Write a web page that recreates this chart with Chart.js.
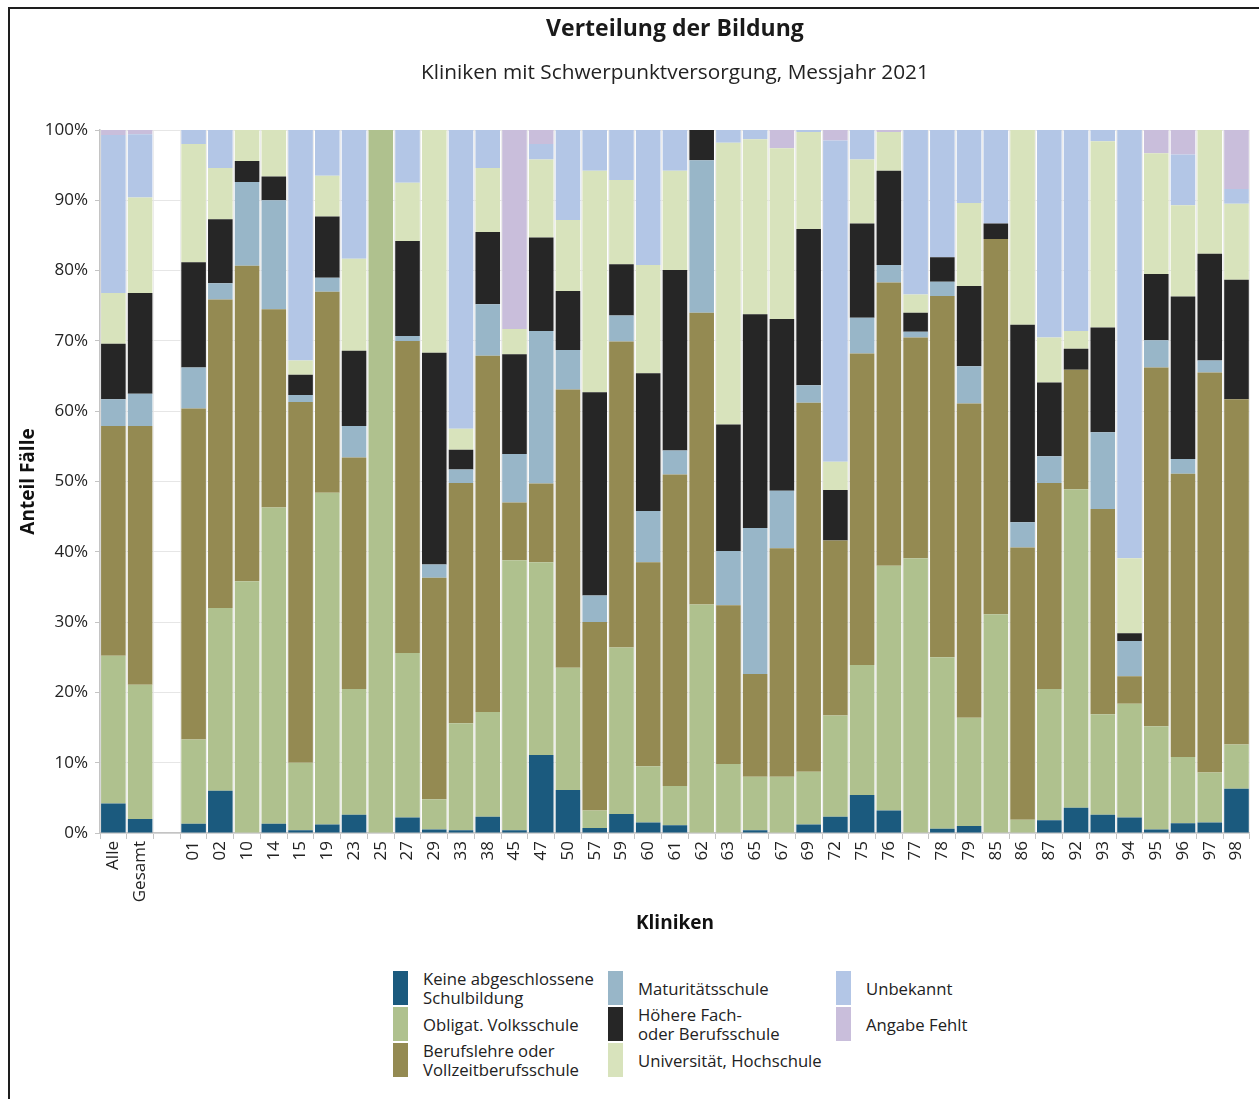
<!DOCTYPE html>
<html lang="de">
<head>
<meta charset="utf-8">
<title>Verteilung der Bildung</title>
<script src="https://cdn.jsdelivr.net/npm/chart.js@4.4.1/dist/chart.umd.min.js"></script>
<style>
  html, body { margin: 0; padding: 0; background: #fff; overflow: hidden; }
  body { width: 1259px; height: 1099px; position: relative; font-family: "Open Sans", sans-serif; }
  #frame { position: absolute; left: 8px; top: 7px; width: 1300px; height: 1200px;
           border-left: 2px solid #1e1e1e; border-top: 2px solid #1e1e1e; }
  #chart { position: absolute; left: 0; top: 0; }
  #legend { position: absolute; left: 393px; top: 971px; width: 640px; height: 110px; }
  .item { position: absolute; display: flex; align-items: center; height: 34px; }
  .sw { width: 15px; height: 34px; flex: 0 0 15px; }
  .lbl { margin-left: 15px; font-size: 16.7px; line-height: 19px; color: #222; white-space: pre; }
</style>
</head>
<body>
<div id="frame"></div>
<canvas id="chart" width="1259" height="950"></canvas>
<div id="legend"></div>
<script>
// Kliniken (leerer Eintrag trennt die Gesamtwerte von den Kliniken)
const kliniken = ["Alle", "Gesamt", "", "01", "02", "10", "14", "15", "19", "23", "25", "27", "29",
  "33", "38", "45", "47", "50", "57", "59", "60", "61", "62", "63", "65", "67", "69", "72", "75",
  "76", "77", "78", "79", "85", "86", "87", "92", "93", "94", "95", "96", "97", "98"];

// Anteile in Prozent je Bildungsstufe
const keineAbschluss = [4.2, 2.0, null, 1.3, 6.0, 0, 1.3, 0.4, 1.2, 2.6, 0, 2.2, 0.5, 0.4, 2.3, 0.4, 11.1, 6.1, 0.7, 2.7, 1.5, 1.1, 0, 0, 0.4, 0, 1.2, 2.3, 5.4, 3.2, 0, 0.6, 1.0, 0, 0, 1.8, 3.6, 2.6, 2.2, 0.5, 1.4, 1.5, 6.3];
const volksschule = [21.0, 19.1, null, 12.0, 26.0, 35.8, 45.0, 9.6, 47.2, 17.9, 100, 23.4, 4.3, 15.2, 14.9, 38.4, 27.4, 17.4, 2.5, 23.7, 8.0, 5.6, 32.5, 9.8, 7.6, 8.0, 7.5, 14.4, 18.5, 34.8, 39.1, 24.4, 15.4, 31.1, 1.9, 18.7, 45.3, 14.3, 16.2, 14.7, 9.4, 7.1, 6.3];
const berufslehre = [32.7, 36.8, null, 47.1, 43.9, 44.9, 28.2, 51.3, 28.6, 32.9, 0, 44.4, 31.5, 34.2, 50.7, 8.2, 11.2, 39.6, 26.8, 43.5, 29.0, 44.3, 41.5, 22.6, 14.6, 32.5, 52.5, 24.9, 44.3, 40.3, 31.4, 51.4, 44.7, 53.4, 38.7, 29.3, 17.0, 29.2, 3.9, 51.0, 40.3, 56.9, 49.1];
const maturitaet = [3.8, 4.6, null, 5.8, 2.3, 11.9, 15.5, 1.0, 2.0, 4.5, 0, 0.7, 1.9, 1.9, 7.3, 6.9, 21.7, 5.6, 3.8, 3.7, 7.3, 3.4, 21.7, 7.7, 20.8, 8.2, 2.5, 0, 5.1, 2.5, 0.8, 2.0, 5.3, 0, 3.6, 3.8, 0, 10.9, 5.0, 3.9, 2.1, 1.7, 0];
const hoehereFach = [7.9, 14.3, null, 15.0, 9.1, 3.0, 3.4, 2.9, 8.7, 10.7, 0, 13.5, 30.1, 2.8, 10.3, 14.2, 13.3, 8.4, 28.9, 7.3, 19.6, 25.7, 4.3, 18.0, 30.4, 24.4, 22.2, 7.2, 13.4, 13.4, 2.7, 3.5, 11.4, 2.2, 28.1, 10.5, 3.0, 14.9, 1.1, 9.4, 23.1, 15.2, 17.0];
const universitaet = [7.2, 13.6, null, 16.8, 7.3, 4.4, 6.6, 2.0, 5.8, 13.1, 0, 8.3, 31.7, 3.0, 9.1, 3.6, 11.1, 10.1, 31.5, 12.0, 15.4, 14.1, 0, 40.1, 24.9, 24.3, 13.8, 4.0, 9.1, 5.5, 2.6, 0, 11.8, 0, 27.7, 6.4, 2.5, 26.5, 10.7, 17.2, 13.0, 17.6, 10.8];
const unbekannt = [22.5, 9.0, null, 2.0, 5.4, 0, 0, 32.8, 6.5, 18.3, 0, 7.5, 0, 42.5, 5.4, 0, 2.2, 12.8, 5.8, 7.1, 19.2, 5.8, 0, 1.8, 1.3, 0, 0.3, 45.7, 4.2, 0, 23.4, 18.1, 10.4, 13.3, 0, 29.5, 28.6, 1.6, 60.9, 0, 7.2, 0, 2.1];
const angabeFehlt = [0.7, 0.6, null, 0, 0, 0, 0, 0, 0, 0, 0, 0, 0, 0, 0, 28.3, 2.0, 0, 0, 0, 0, 0, 0, 0, 0, 2.6, 0, 1.5, 0, 0.3, 0, 0, 0, 0, 0, 0, 0, 0, 0, 3.3, 3.5, 0, 8.4];

// Y-Achse
const yTicks = [0, 10, 20, 30, 40, 50, 60, 70, 80, 90, 100];

const reihen = [
  { name: "Keine abgeschlossene\nSchulbildung", data: keineAbschluss, color: "#1b5a7e" },
  { name: "Obligat. Volksschule", data: volksschule, color: "#afc18e" },
  { name: "Berufslehre oder\nVollzeitberufsschule", data: berufslehre, color: "#948a52" },
  { name: "Maturitätsschule", data: maturitaet, color: "#98b6c8" },
  { name: "Höhere Fach-\noder Berufsschule", data: hoehereFach, color: "#262626" },
  { name: "Universität, Hochschule", data: universitaet, color: "#d8e3bc" },
  { name: "Unbekannt", data: unbekannt, color: "#b3c6e6" },
  { name: "Angabe Fehlt", data: angabeFehlt, color: "#c9bedb" }
];

const FONT = "'Open Sans', sans-serif";

// Titel über der Mitte der Zeichenfläche
const titelPlugin = {
  id: "titel",
  afterDraw(chart) {
    const { ctx, chartArea } = chart;
    const cx = (chartArea.left + chartArea.right) / 2;
    ctx.save();
    ctx.fillStyle = "#1a1a1a";
    ctx.textAlign = "center";
    ctx.textBaseline = "middle";
    ctx.font = "bold 23px " + FONT;
    ctx.fillText("Verteilung der Bildung", cx, 29);
    ctx.font = "20.8px " + FONT;
    ctx.fillStyle = "#222";
    ctx.fillText("Kliniken mit Schwerpunktversorgung, Messjahr 2021", cx, 73);
    ctx.restore();
  }
};

new Chart(document.getElementById("chart"), {
  type: "bar",
  data: {
    labels: kliniken,
    datasets: reihen.map(r => ({
      label: r.name,
      data: r.data,
      backgroundColor: r.color,
      borderWidth: 0,
      barPercentage: 0.92,
      categoryPercentage: 1.0
    }))
  },
  options: {
    responsive: false,
    devicePixelRatio: 1,
    animation: false,
    layout: { padding: { top: 130, left: 0, right: 9, bottom: 0 } },
    plugins: {
      legend: { display: false },
      tooltip: { enabled: false }
    },
    scales: {
      x: {
        stacked: true,
        offset: true,
        grid: { offset: true, color: "#ececec", tickColor: "#c4c4c4", tickLength: 6, drawOnChartArea: true },
        border: { color: "#c4c4c4", width: 1.5 },
        ticks: { minRotation: 90, maxRotation: 90, autoSkip: false, padding: 2, color: "#222",
                 font: { family: FONT, size: 17 } },
        title: { display: true, text: "Kliniken", color: "#111",
                 font: { family: FONT, size: 19, weight: "bold" }, padding: { top: 0, bottom: 15 } },
        afterFit(scale) { scale.height = 117; }
      },
      y: {
        stacked: true,
        min: 0,
        max: 100,
        afterBuildTicks(scale) { scale.ticks = yTicks.map(v => ({ value: v })); },
        grid: { color: "#e6e6e6", tickColor: "#c4c4c4", tickLength: 5 },
        border: { color: "#c4c4c4", width: 1.5 },
        ticks: { padding: 7, color: "#222", font: { family: FONT, size: 17 },
                 callback: v => v + "%" },
        title: { display: true, text: "Anteil Fälle", color: "#111",
                 font: { family: FONT, size: 19, weight: "bold" }, padding: { top: 17, bottom: 0 } },
        afterFit(scale) { scale.width = 100; }
      }
    }
  },
  plugins: [titelPlugin]
});

// Legende in drei Spalten
const legende = document.getElementById("legend");
const spaltenX = [0, 215, 443];
reihen.forEach((r, i) => {
  const spalte = i < 3 ? 0 : (i < 6 ? 1 : 2);
  const zeile = i < 3 ? i : (i < 6 ? i - 3 : i - 6);
  const el = document.createElement("div");
  el.className = "item";
  el.style.left = spaltenX[spalte] + "px";
  el.style.top = (zeile * 36) + "px";
  const sw = document.createElement("div");
  sw.className = "sw";
  sw.style.background = r.color;
  const lbl = document.createElement("div");
  lbl.className = "lbl";
  lbl.textContent = r.name;
  el.appendChild(sw);
  el.appendChild(lbl);
  legende.appendChild(el);
});
</script>
</body>
</html>
